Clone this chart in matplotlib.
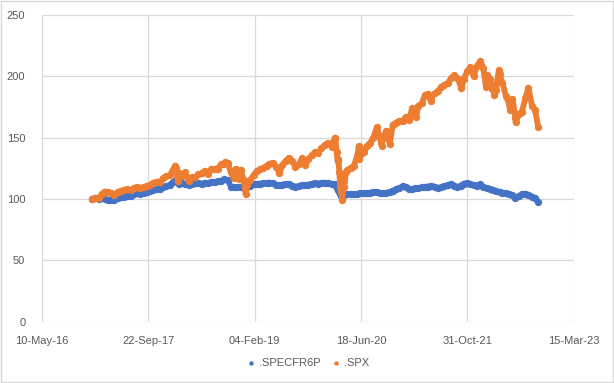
import numpy as np
import pandas as pd
import matplotlib
matplotlib.use("Agg")
import matplotlib.pyplot as plt
import matplotlib.dates as mdates
from matplotlib.patches import Rectangle

# semi-monthly observations (1st and 15th), Jan 2017 .. Sep 2022, plus last day
grid_start = "2017-01-01"
grid_end = "2022-09-15"
last_date = "2022-09-30"

specfr6p = [
    # 2017
    100.0, 100.5, 100.2, 100.8, 99.8, 99.2, 99.0, 99.5, 101.0, 101.5, 102.0, 102.4,
    102.8, 104.0, 104.6, 104.0, 105.2, 106.0, 106.5, 107.2, 108.0, 108.5, 109.5, 110.5,
    # 2018
    111.5, 113.5, 115.5, 112.5, 112.8, 112.0, 111.8, 112.5, 112.8, 113.0, 112.5, 113.2,
    113.0, 113.6, 114.0, 114.3, 115.0, 116.0, 115.5, 110.2, 109.5, 109.8, 109.5, 109.0,
    # 2019
    109.8, 111.0, 112.0, 112.3, 112.5, 112.8, 113.0, 113.3, 112.8, 111.5, 111.2, 111.8,
    112.3, 112.2, 111.0, 110.0, 110.5, 111.5, 111.2, 111.8, 112.3, 112.8, 112.5, 113.0,
    # 2020
    113.3, 113.0, 112.5, 112.0, 107.0, 102.5, 103.0, 103.8, 104.0, 103.8, 104.3, 104.6,
    104.5, 104.8, 105.2, 105.6, 105.5, 104.8, 104.6, 105.0, 105.8, 106.8, 107.8, 108.8,
    # 2021
    110.3, 109.5, 108.2, 108.0, 108.6, 109.0, 109.5, 109.8, 110.2, 110.6, 110.0, 108.7,
    109.5, 110.5, 111.2, 112.0, 111.0, 109.5, 111.0, 112.5, 113.0, 112.0, 111.5, 111.0,
    # 2022
    112.0, 110.0, 108.8, 108.0, 107.0, 106.5, 105.8, 105.3, 104.6, 104.0, 103.0, 101.0,
    102.5, 103.8, 104.2, 103.5, 102.0, 100.5,
    97.5,
]

spx = [
    # 2017
    100.0, 100.8, 100.9, 104.1, 106.1, 105.6, 104.7, 103.1, 105.8, 106.4, 107.6, 107.8,
    107.3, 108.9, 109.7, 109.1, 109.7, 110.7, 111.6, 113.1, 114.2, 113.6, 117.0, 118.5,
    # 2018
    119.4, 123.4, 125.0, 121.0, 118.6, 121.7, 114.4, 117.6, 117.6, 120.1, 121.1, 123.1,
    120.4, 124.1, 124.6, 124.8, 128.5, 128.9, 129.5, 121.8, 120.2, 120.9, 123.6, 115.1,
    # 2019
    111.2, 115.6, 119.9, 122.9, 124.1, 125.0, 127.0, 128.7, 129.5, 126.2, 121.5, 127.8,
    131.3, 133.5, 130.8, 126.1, 128.7, 133.2, 127.9, 132.7, 135.8, 138.2, 137.9, 141.3,
    # 2020
    144.3, 145.7, 142.8, 149.7, 130.8, 120.1, 109.4, 123.3, 125.4, 126.8, 135.3, 135.8,
    138.0, 142.9, 145.9, 149.8, 158.5, 150.6, 149.7, 155.5, 144.8, 160.6, 162.2, 163.6,
    # 2021
    163.9, 166.9, 166.0, 174.2, 170.0, 175.8, 178.0, 184.7, 185.7, 183.0, 186.1, 188.0,
    191.3, 193.1, 194.3, 198.4, 200.9, 198.4, 192.0, 198.0, 204.3, 207.4, 199.9, 208.5,
    # 2022
    212.4, 206.5, 201.0, 198.0, 192.5, 188.8, 202.0, 194.5, 184.0, 178.0, 181.6, 166.0,
    169.4, 171.1, 182.4, 190.7, 175.7, 172.8,
    158.8,
]

# extra .SPX points at sharp turns (crash days etc.)
spx_extra_dates = [
    "2018-01-26", "2018-02-08", "2018-09-20", "2018-10-29", "2018-11-07", "2018-11-23",
    "2018-12-24", "2020-02-19", "2020-02-25", "2020-03-03", "2020-03-09", "2020-03-12",
    "2020-03-16", "2020-03-18", "2020-03-23", "2020-03-26", "2020-04-08", "2020-06-08",
    "2020-06-11", "2020-09-23", "2021-01-29", "2021-03-04", "2021-05-12", "2021-10-04",
    "2022-01-27", "2022-02-24", "2022-03-08", "2022-03-29", "2022-05-20", "2022-06-16",
]
spx_extra = [
    127.2, 114.3, 129.8, 117.0, 124.6, 116.6,
    104.1, 150.0, 138.5, 133.0, 121.7, 109.9,
    105.7, 106.2, 99.1, 116.5, 121.8, 143.1,
    132.9, 143.4, 164.5, 166.9, 179.9, 190.4,
    191.6, 189.9, 184.7, 205.1, 172.8, 162.4,
]

x_min, x_max = "2016-05-10", "2023-03-15"
y_ticks = [0, 50, 100, 150, 200, 250]

dates = pd.date_range(grid_start, grid_end, freq="SMS").append(pd.DatetimeIndex([last_date]))
spx_s = pd.concat([pd.Series(spx, index=dates),
                   pd.Series(spx_extra, index=pd.to_datetime(spx_extra_dates))]).sort_index()

blue = "#4472C4"
orange = "#ED7D31"
grey = "#595959"
gridc = "#D9D9D9"

plt.rcParams["font.family"] = ["Liberation Sans", "DejaVu Sans"]

fig = plt.figure(figsize=(6.14, 3.83), dpi=100)
ax = fig.add_axes([42 / 614, 1 - 321.7 / 383, 531.5 / 614, 306.7 / 383])

# thick band under the markers, so the daily-looking cloud reads as one trace
ax.plot(dates, specfr6p, color=blue, lw=4.2, solid_joinstyle="round",
        solid_capstyle="round", zorder=3)
ax.scatter(dates, specfr6p, s=28, color=blue, linewidths=0, label=".SPECFR6P", zorder=3)
ax.plot(spx_s.index, spx_s.values, color=orange, lw=4.2, solid_joinstyle="round",
        solid_capstyle="round", zorder=4)
ax.scatter(spx_s.index, spx_s.values, s=28, color=orange, linewidths=0, label=".SPX", zorder=4)

ax.set_ylim(0, 250)
ax.set_yticks(y_ticks)
x0, x1 = pd.Timestamp(x_min), pd.Timestamp(x_max)
ax.set_xlim(x0, x1)
ax.set_xticks(pd.date_range(x0, x1, freq="500D"))
ax.xaxis.set_major_formatter(mdates.DateFormatter("%d-%b-%y"))

ax.grid(True, color=gridc, linewidth=0.9)
ax.set_axisbelow(True)
for sp in ax.spines.values():
    sp.set_visible(False)
ax.tick_params(length=0, colors=grey, labelsize=8)
ax.tick_params(axis="y", pad=12)
ax.tick_params(axis="x", pad=10)

leg = fig.legend(loc="center", bbox_to_anchor=(308 / 614, 1 - 363 / 383), ncol=2,
                 frameon=False, fontsize=8, handlelength=0.8, handletextpad=0.3,
                 columnspacing=1.0, markerscale=0.6)
for t in leg.get_texts():
    t.set_color(grey)

fig.patches.append(Rectangle((0.001, 0.002), 0.997, 0.996, transform=fig.transFigure,
                             fill=False, edgecolor=gridc, linewidth=1))

fig.savefig("out.png", dpi=100)
